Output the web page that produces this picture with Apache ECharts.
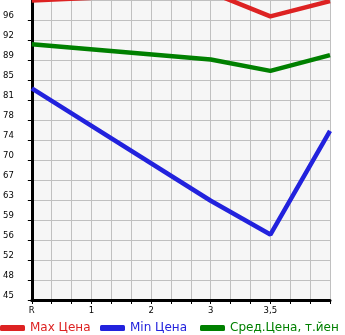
<!DOCTYPE html>
<html><head><meta charset="utf-8">
<script src="https://cdn.jsdelivr.net/npm/echarts@6/dist/echarts.min.js"></script>
<style>html,body{margin:0;padding:0;background:#fff}#c{width:345px;height:335px}</style>
</head><body><div id="c"></div>
<script>
const xLabels = ['R', '1', '2', '3', '3,5', ''];
const xPos = [0, 3, 4, 5];
const maxPrice = [99.9, 101.4, 97.0, 99.8];
const minPrice = [83.8, 63.2, 57.0, 76.0];
const avgPrice = [91.9, 89.1, 87.0, 89.9];
const seriesNames = ['Max Цена', 'Min Цена', 'Сред.Цена, т.йен'];
const colors = ['#dd2222', '#2222dd', '#008000'];
const yMin = 45, yMax = 100, ySteps = 15;

const values = [maxPrice, minPrice, avgPrice];
const chart = echarts.init(document.getElementById('c'), null, {renderer: 'canvas'});
const font = 'DejaVu Sans';
chart.setOption({
  animation: false,
  backgroundColor: '#ffffff',
  grid: {left: 30, top: 0, width: 300, height: 300, show: true, backgroundColor: '#f6f6f6', borderWidth: 0},
  legend: seriesNames.map((n, i) => ({
    left: i * 100, top: 322, padding: 0, itemWidth: 25, itemHeight: 6, icon: 'roundRect',
    data: [{name: n, textStyle: {color: colors[i]}}],
    textStyle: {fontFamily: font, fontSize: 12}
  })),
  xAxis: {
    type: 'value', min: 0, max: 5, interval: 1 / 3,
    axisLine: {show: true, lineStyle: {color: '#000', width: 3}},
    axisTick: {show: true, length: 4, lineStyle: {color: '#000'}},
    splitLine: {show: true, lineStyle: {color: '#c0c0c0', width: 1}},
    axisLabel: {
      margin: 6, color: '#000', fontFamily: font, fontSize: 8.5,
      formatter: v => { const k = Math.round(v * 3); return k % 3 === 0 ? xLabels[k / 3] : ''; }
    }
  },
  yAxis: {
    type: 'value', min: yMin, max: yMax, interval: (yMax - yMin) / ySteps,
    axisLine: {show: true, lineStyle: {color: '#000', width: 3}},
    axisTick: {show: true, length: 4, lineStyle: {color: '#000'}},
    splitLine: {show: true, lineStyle: {color: '#c0c0c0', width: 1}},
    axisLabel: {
      margin: 18, color: '#000', fontFamily: font, fontSize: 8.5, verticalAlign: 'bottom',
      showMaxLabel: false,
      formatter: v => String(Math.floor(v + 1e-6))
    }
  },
  series: seriesNames.map((n, i) => ({
    name: n, type: 'line', showSymbol: false, symbol: 'none',
    color: colors[i],
    lineStyle: {color: colors[i], width: 4.5},
    data: xPos.map((x, j) => [x, values[i][j]])
  }))
});
</script></body></html>
